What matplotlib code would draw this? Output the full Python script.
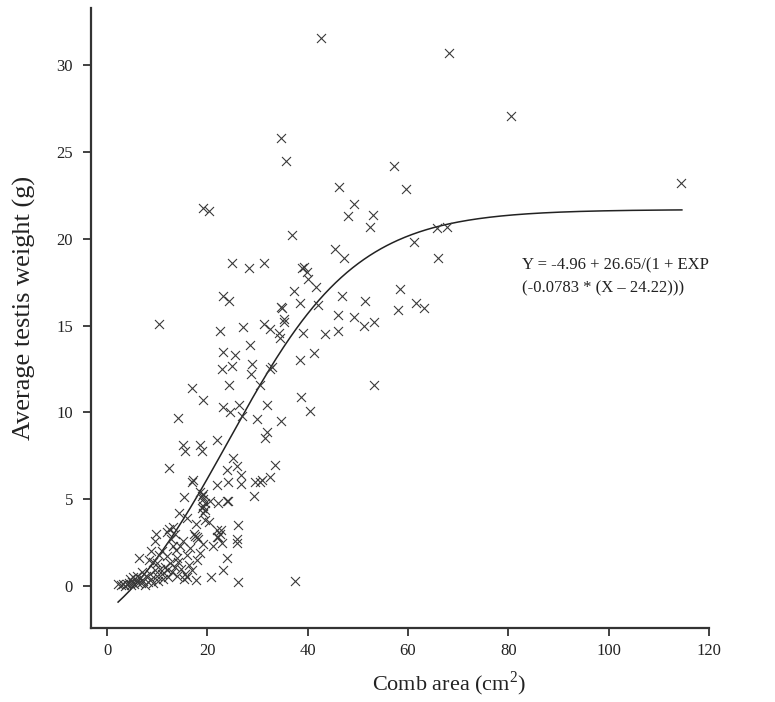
import numpy as np
import matplotlib
matplotlib.use("Agg")
import matplotlib.pyplot as plt

plt.rcParams['font.family'] = ['Liberation Serif', 'DejaVu Serif']
plt.rcParams['mathtext.fontset'] = 'custom'
plt.rcParams['mathtext.rm'] = 'Liberation Serif'

# comb area (cm2) and average testis weight (g) per bird
comb_area = [
    42.7, 68.1, 80.6, 34.7, 35.7, 57.2, 114.5, 46.2, 59.6, 49.2, 19.2, 20.4, 48.1, 53.0, 52.5,
    36.9, 65.7, 67.7, 61.1, 66.0, 45.5, 47.3, 24.9, 28.4, 31.3, 39.2, 38.8, 39.9, 40.0, 41.7,
    58.5, 37.3, 23.2, 24.4, 46.8, 38.4, 51.5, 61.5, 63.1, 34.7, 34.8, 42.0, 58.1, 46.0, 49.2,
    35.2, 51.2, 53.3, 39.1, 43.5, 46.0, 41.2, 38.5, 53.2, 38.7, 40.5,
    35.3, 31.2, 32.5, 27.2, 34.2, 34.4, 22.6, 28.5, 23.1, 25.5, 28.9, 22.9, 24.9, 32.9, 32.5,
    28.7, 24.4, 30.5, 23.1, 26.4, 31.9,
    10.4, 14.2, 16.9, 19.2, 24.6, 26.9, 29.9, 34.7, 31.9, 31.5,
    15.1, 15.6, 18.6, 18.9, 21.9, 12.4, 25.1, 25.9, 23.9, 26.7, 26.7, 16.9, 17.2, 21.9, 24.2,
    29.5, 30.5, 30.9, 32.4, 33.4, 29.2, 15.4, 19.1, 18.6, 18.9, 19.2, 20.6, 22.2, 23.9, 24.2,
    19.6, 19.2, 18.9, 19.6, 19.2, 14.4, 15.9, 19.6, 20.4, 17.8, 17.4, 17.9, 21.9, 22.7, 22.6,
    22.2, 22.9, 26.2, 25.9, 25.9, 12.4, 13.2, 9.8, 11.9, 13.1, 13.8, 14.6, 17.6, 18.2, 19.2,
    18.6, 17.9, 21.2, 21.9, 23.9, 23.2, 26.2, 20.7, 17.8, 37.5, 6.4, 8.4,
    2.2, 2.7, 3.1, 3.5, 3.9, 4.3, 4.7, 5.0, 5.4, 5.7, 6.1, 6.5, 6.8, 7.2, 7.5,
    7.8, 8.1, 8.5, 8.8, 9.2, 9.2, 9.5, 9.9, 9.9, 10.2, 10.6, 10.9, 11.2, 11.6, 11.9,
    12.2, 12.6, 13.0, 13.6, 13.9, 14.2, 14.0, 14.8, 15.3, 15.6, 15.9, 16.4, 16.9, 10.3, 11.0,
    12.0, 8.8, 9.6, 12.8, 13.5, 15.2, 16.0, 16.6, 7.0, 6.0, 5.2, 4.5,
]
testis_weight = [
    31.6, 30.7, 27.1, 25.8, 24.5, 24.2, 23.2, 23.0, 22.9, 22.0, 21.8, 21.6, 21.3, 21.4, 20.7,
    20.2, 20.6, 20.7, 19.8, 18.9, 19.4, 18.9, 18.6, 18.3, 18.6, 18.4, 18.3, 18.1, 17.7, 17.2,
    17.1, 17.0, 16.7, 16.4, 16.7, 16.3, 16.4, 16.3, 16.0, 16.1, 16.0, 16.2, 15.9, 15.6, 15.5,
    15.4, 15.0, 15.2, 14.6, 14.5, 14.7, 13.4, 13.0, 11.6, 10.9, 10.1,
    15.2, 15.1, 14.8, 14.9, 14.6, 14.3, 14.7, 13.9, 13.5, 13.3, 12.8, 12.5, 12.7, 12.6, 12.5,
    12.2, 11.6, 11.6, 10.3, 10.4, 10.4,
    15.1, 9.7, 11.4, 10.7, 10.0, 9.8, 9.6, 9.5, 8.9, 8.5,
    8.1, 7.8, 8.1, 7.8, 8.4, 6.8, 7.4, 6.9, 6.7, 6.4, 5.9, 6.0, 6.1, 5.8, 6.0,
    6.0, 6.0, 6.1, 6.3, 7.0, 5.2, 5.1, 5.3, 5.4, 5.2, 5.0, 4.9, 4.8, 4.9, 4.9,
    4.8, 4.6, 4.5, 4.4, 4.2, 4.2, 3.9, 3.8, 3.7, 3.6, 3.0, 2.8, 3.2, 3.2, 3.0,
    2.8, 2.5, 3.5, 2.7, 2.5, 3.3, 3.4, 3.0, 3.1, 2.3, 2.1, 2.3, 2.9, 2.7, 2.4,
    1.9, 1.5, 2.3, 2.8, 1.6, 0.9, 0.25, 0.5, 0.35, 0.3, 1.6, 1.5,
    0.1, 0.05, 0.12, 0.0, 0.1, 0.18, 0.05, 0.25, 0.1, 0.35, 0.15, 0.45, 0.2, 0.3, 0.05,
    0.55, 0.25, 0.7, 0.4, 0.15, 1.4, 0.9, 1.3, 0.6, 0.3, 1.0, 0.7, 0.4, 1.1, 0.9,
    0.5, 1.3, 0.8, 1.1, 1.6, 1.4, 0.6, 1.0, 0.4, 0.7, 0.5, 1.2, 0.9, 1.8, 2.0,
    1.7, 2.0, 2.6, 2.7, 3.0, 2.6, 1.8, 2.2, 0.8, 0.6, 0.5, 0.4,
]

# fitted logistic curve
a, b, k, x0 = -4.96, 26.65, 0.0783, 24.22
x_fit = np.linspace(2.2, 114.6, 400)
y_fit = a + b / (1 + np.exp(-k * (x_fit - x0)))

fig = plt.figure(figsize=(7.75, 7.02), dpi=100)
ax = fig.add_axes([0.1174, 0.1054, 0.7974, 0.8832])

ax.scatter(comb_area, testis_weight, marker='x', s=42, linewidths=0.8,
           color='#3a3a3a', zorder=3)
ax.plot(x_fit, y_fit, color='#222222', linewidth=1.1, zorder=2)

ax.set_xlim(-3.2, 120)
ax.set_ylim(-2.42, 33.3)
ax.set_xticks([0, 20, 40, 60, 80, 100, 120])
ax.set_yticks([0, 5, 10, 15, 20, 25, 30])

for side in ['top', 'right']:
    ax.spines[side].set_visible(False)
for side in ['left', 'bottom']:
    ax.spines[side].set_linewidth(1.6)
    ax.spines[side].set_color('#333333')
ax.tick_params(direction='out', length=6, width=1.3, colors='#333333',
               labelsize=12, labelcolor='#222222', pad=7)
ax.tick_params(axis='x', pad=5)

ax.set_xlabel('Comb area (cm$^\\mathregular{2}$)', fontsize=16, color='#222222',
              va='center')
ax.xaxis.set_label_coords(0.58, -0.09)
ax.set_ylabel('Average testis weight (g)', fontsize=19, color='#222222',
              va='center')
ax.yaxis.set_label_coords(-0.107, 0.516)

ax.text(82.8, 17.8, 'Y = -4.96 + 26.65/(1 + EXP\n(-0.0783 * (X \u2013 24.22)))',
        fontsize=12, color='#222222', va='center', ha='left', linespacing=1.55)

fig.savefig('out.png', dpi=100)
